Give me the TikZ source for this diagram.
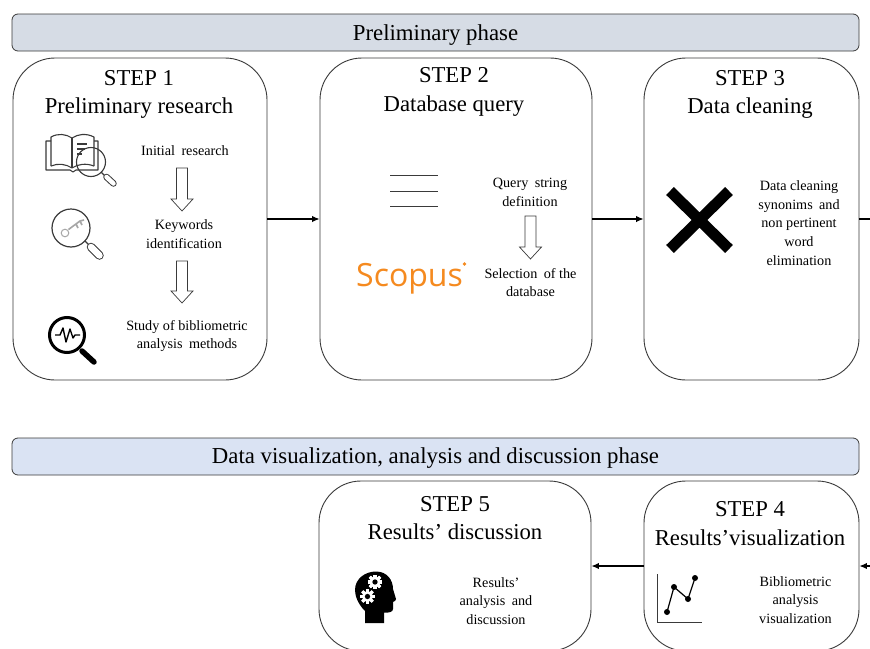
\documentclass[tikz,border=0pt]{standalone}
\usepackage{fontspec}
\setmainfont{Liberation Serif}
\newfontfamily\scopusfont{Open Sans}
\usetikzlibrary{arrows.meta,calc}
\definecolor{bandA}{HTML}{D6DCE5}
\definecolor{bandB}{HTML}{DAE3F3}
\definecolor{edge}{HTML}{3A3A3A}
\definecolor{scopusorange}{HTML}{F58A1F}
\tikzset{
  x=1pt,y=-1pt,
  band/.style={draw=edge,line width=.8pt,rounded corners=6pt,minimum width=847pt,minimum height=37pt,inner sep=0pt},
  bandtext/.style={inner sep=0pt,font=\fontsize{22.8}{25}\selectfont},
  stepbox/.style={draw=edge,line width=.9pt,rounded corners=42pt,inner sep=0pt,fill=white},
  title/.style={align=center,inner sep=0pt,font=\fontsize{22.7}{28.5}\selectfont},
  small/.style={align=center,inner sep=0pt,font=\fontsize{14.2}{18.8}\selectfont},
  flow/.style={line width=1.2pt,black,-{Latex[length=7.5pt,width=6.5pt]}},
  hollow/.style={draw=edge,line width=.7pt,fill=white},
}
\newcommand{\hollowarrow}[3]{% x centre, y top, y tip
  \draw[hollow] (#1-5.5,#2) -- (#1+5.5,#2) -- (#1+5.5,#3-12) -- (#1+11,#3-12) -- (#1,#3) -- (#1-11,#3-12) -- (#1-5.5,#3-12) -- (#1-5.5,#2) -- cycle;}
\newcommand{\gearicon}[3]{% x,y,r
  \foreach \a in {0,45,...,315}
    \fill[white,rotate around={\a:(#1,#2)}] (#1-#3*.28,#2-#3*1.32) rectangle (#1+#3*.28,#2+#3*1.32);
  \fill[white] (#1,#2) circle (#3);
  \fill[black] (#1,#2) circle (#3*.48);}
\newcommand{\handle}[5]{% x1,y1,x2,y2,width
  \draw[edge,line width=#5pt,line cap=round] (#1,#2) -- (#3,#4);
  \draw[white,line width=#5pt-2pt,line cap=round] (#1,#2) -- (#3,#4);}
\begin{document}
\begin{tikzpicture}
\useasboundingbox (0,0) rectangle (870,648);
\clip (0,0) rectangle (870,648);
\fill[white] (0,0) rectangle (870,648);
% bands
\node[band,fill=bandA] (phaseA) at (435.5,32.5) {};
\node[bandtext] (phaseAt) at (435.5,35) {Preliminary phase};
\node[band,fill=bandB] (phaseB) at (435.5,456.5) {};
\node[bandtext] (phaseBt) at (435.5,458.5) {Data visualization, analysis and discussion phase};
% boxes
\node[stepbox,minimum width=254pt,minimum height=322pt] (s1) at (140,219) {};
\node[stepbox,minimum width=272pt,minimum height=322pt] (s2) at (456,219) {};
\node[stepbox,minimum width=215pt,minimum height=322pt] (s3) at (751.5,219) {};
\node[stepbox,minimum width=272pt,minimum height=170pt] (s5) at (455,566) {};
\node[stepbox,minimum width=215pt,minimum height=170pt] (s4) at (751.5,566) {};
% titles
\node[title] (t1) at (139,94.5) {STEP 1\\Preliminary research};
\node[title] (t2) at (454,92) {STEP 2\\Database query};
\node[title] (t3) at (750,94.5) {STEP 3\\Data cleaning};
\node[title] (t5) at (455,518) {STEP 5\\Results’ discussion};
\node[title] (t4) at (750,523.5) {STEP 4\\Results’visualization};
% connectors
\coordinate (outA) at (870,219);
\coordinate (inB) at (870,566);
\draw[flow] (s1) -- (s2);
\draw[flow] (s2) -- (s3);
\draw[line width=1.2pt] (s3) -- (outA);
\draw[flow] (inB) -- (s4);
\draw[flow] (s4) -- (s5);
% step 1 text
\node[small] (a1) at (185,151) {Initial\hspace{.2em} research};
\node[small] (a2) at (184,234) {Keywords\\identification};
\node[small] (a3) at (187,336) {Study of bibliometric\\analysis\hspace{.2em} methods};
\hollowarrow{182}{168}{211}
\hollowarrow{182}{261}{303}
% book icon
\begin{scope}[line width=1.1pt,edge,line join=round]
  \draw (51,141) -- (46,141) -- (46,170) -- (70,170) -- (73,172) -- (76,170) -- (98,170) -- (98,141) -- (94,141);
  \draw (51,166) -- (51,137) .. controls (58,133) and (66,134) .. (72,138) .. controls (78,134) and (86,133) .. (94,137) -- (94,166);
  \draw (51,166) .. controls (58,163) and (66,164) .. (72,168) .. controls (78,164) and (86,163) .. (94,166);
  \draw (72,138) -- (72,168);
  \draw (77,144) -- (87,144) (77,149) -- (85,149) (77,154) -- (82,154);
  \draw (91,162) circle (14.5);
  \draw (101,172) -- (105,176);
  \handle{106.5}{177}{113.5}{183.5}{6.5}
\end{scope}
% key magnifier
\begin{scope}[line width=1.2pt,edge]
  \draw (71,228) circle (19);
  \draw (85,241) -- (90,246);
  \handle{91}{247}{99.5}{255.5}{8.5}
  \draw[gray!70,line width=1pt] (65,233) circle (3.8);
  \draw[gray!70,line width=1.6pt] (68.5,229.5) -- (80,221) -- (84,220) (80,221) -- (82,225) (76,224) -- (78,228);
\end{scope}
% analysis magnifier
\begin{scope}[black]
  \draw[line width=3pt] (67,335) circle (17.5);
  \draw[line width=5.5pt,line cap=round] (82,351) -- (94,362);
  \draw[line width=1.4pt,line join=round] (55,335) -- (60,335) -- (63,328) -- (66,342) -- (70,329) -- (73,338) -- (75,335) -- (80,335);
\end{scope}
% step 2
\foreach \y/\n in {175/la,191/lb,206/lc}
  \draw[line width=1pt,edge] (390,\y) -- (438,\y);
\node[small] (b1) at (530,192) {Query\hspace{.2em} string\\definition};
\node[small] (b2) at (530.5,282.5) {Selection\hspace{.2em} of the\\database};
\hollowarrow{530.5}{216}{259}
\node[anchor=base west,inner sep=0pt,text=scopusorange,font=\scopusfont\fontsize{32}{36}\selectfont] (scopus) at (356,286) {Scopus};
\fill[scopusorange] (464.5,264) circle (1.8);
% step 3
\draw[line width=11pt,black] (670,191) -- (729,249) (729,191) -- (670,249);
\node[small] (c1) at (799,223) {Data cleaning\\synonims\hspace{.2em} and\\non pertinent\\word\\elimination};
% step 5
\node[small] (e1) at (496,601) {Results’\\analysis\hspace{.2em} and\\discussion};
\fill[black] (365,623) -- (365,611) .. controls (358,604) and (355,596) .. (355,590)
  .. controls (355,578) and (366,571.5) .. (376,571.5)
  .. controls (387,571.5) and (393,580) .. (393,589) -- (396,599) .. controls (396.5,601) and (394,601) .. (393,602)
  -- (393,609) .. controls (393,612) and (389,613) .. (384,612.5) -- (384,623) -- cycle;
\gearicon{375}{582}{5.5}
\gearicon{367.5}{596.5}{5.5}
% step 4
\node[small] (d1) at (795.5,600) {Bibliometric\\analysis\\visualization};
\draw[line width=.8pt,edge] (657,574) -- (657,622) -- (702,622);
\draw[line width=1.2pt,black] (667,612) -- (674,587) -- (688,599) -- (695,578);
\foreach \px/\py in {667/612,674/587,688/599,695/578}
  \fill[black] (\px,\py) circle (3);
\end{tikzpicture}
\end{document}
